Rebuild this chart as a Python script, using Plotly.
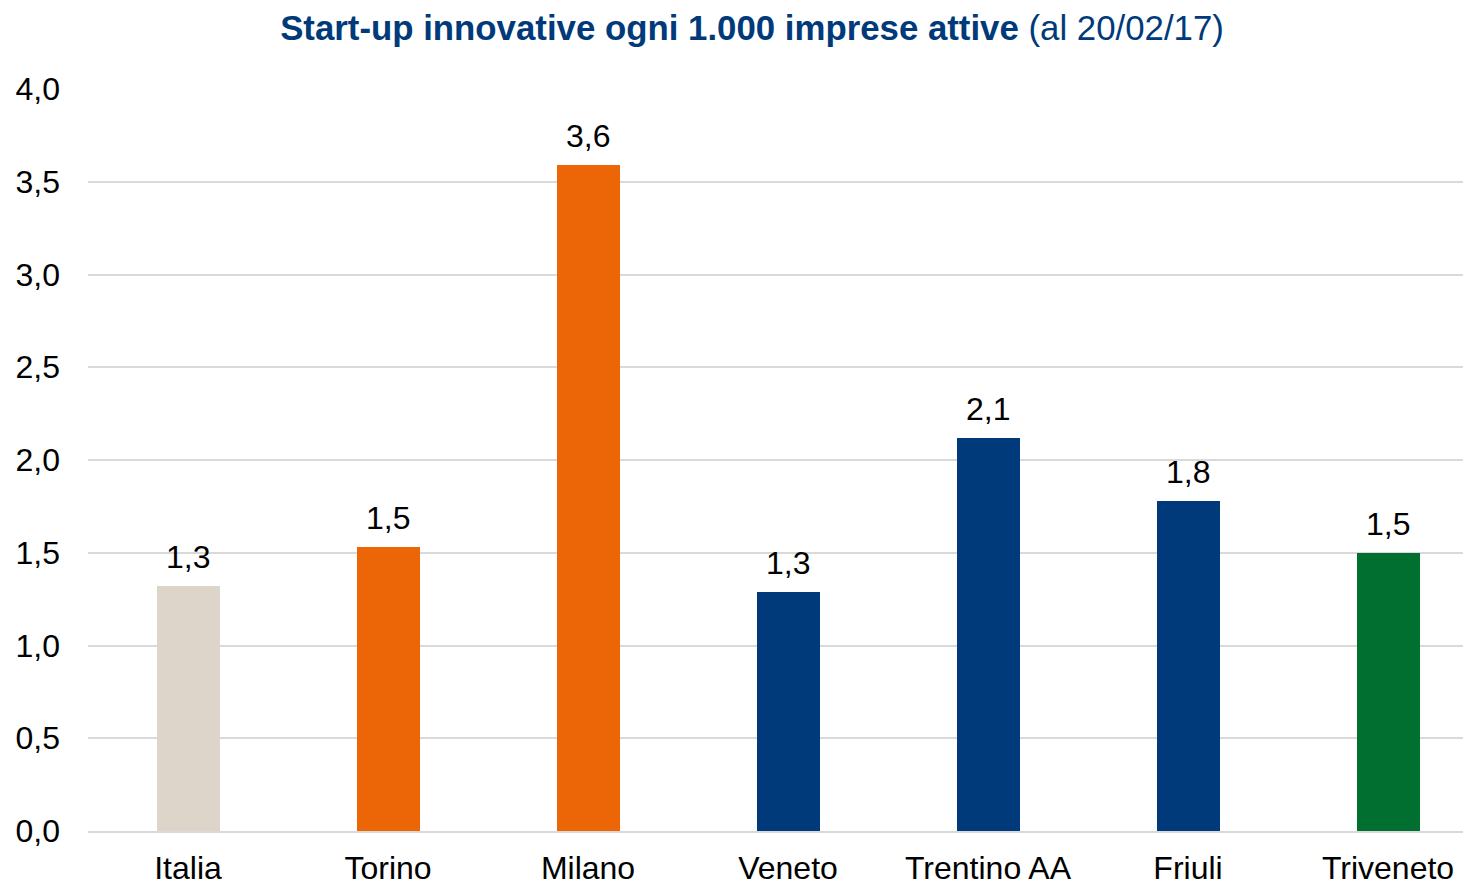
import plotly.graph_objects as go

categories = ["Italia", "Torino", "Milano", "Veneto", "Trentino AA", "Friuli", "Triveneto"]
values = [1.32, 1.53, 3.59, 1.29, 2.12, 1.78, 1.50]
colors = ["#DDD5CA", "#EC6608", "#EC6608", "#003A7A", "#003A7A", "#003A7A", "#006F2F"]
y_ticks = [0, 0.5, 1, 1.5, 2, 2.5, 3, 3.5, 4]

FONT = "Liberation Sans, Arial, sans-serif"
W, H = 1463, 876  # page body has an 8px margin

x_pos = list(range(len(categories)))

fig = go.Figure(go.Bar(
    x=x_pos,
    y=values,
    marker=dict(color=colors, line=dict(width=0)),
    width=0.315,
    hoverinfo="x+y",
))

for xi, v in zip(x_pos, values):
    fig.add_annotation(
        x=xi, y=v, xref="x", yref="y",
        text=f"{v:.1f}".replace(".", ","),
        showarrow=False, yanchor="bottom", yshift=9,
        font=dict(size=32, color="#000000", family=FONT),
    )

fig.update_layout(
    width=W, height=H,
    margin=dict(l=80, r=0, t=81, b=53, autoexpand=False),
    paper_bgcolor="white", plot_bgcolor="white",
    separators=",.",
    showlegend=False,
    font=dict(family=FONT, color="#000000"),
    title=dict(
        text="<b>Start-up innovative ogni 1.000 imprese attive</b> (al 20/02/17)",
        font=dict(size=34.8, color="#003A7A", family=FONT),
        x=744 / W, xanchor="center", xref="container",
        y=1 - 20 / H, yanchor="middle", yref="container",
    ),
    xaxis=dict(
        range=[-0.5, 6.415],
        tickmode="array",
        tickvals=x_pos,
        ticktext=categories,
        tickfont=dict(size=32, color="#000000"),
        showgrid=False,
        zeroline=False,
        showline=True, linecolor="#D9D9D9", linewidth=2,
        ticks="", ticklabelstandoff=8,
        automargin=False,
    ),
    yaxis=dict(
        range=[0, 4],
        tickmode="array",
        tickvals=y_ticks,
        ticktext=[f"{v:.1f}".replace(".", ",") for v in y_ticks],
        tickfont=dict(size=32, color="#000000"),
        showgrid=True, gridcolor="#D9D9D9", gridwidth=2,
        zeroline=False,
        ticks="", ticklabelstandoff=27,
        automargin=False,
    ),
    bargap=0,
)

fig.write_html("out.html")
